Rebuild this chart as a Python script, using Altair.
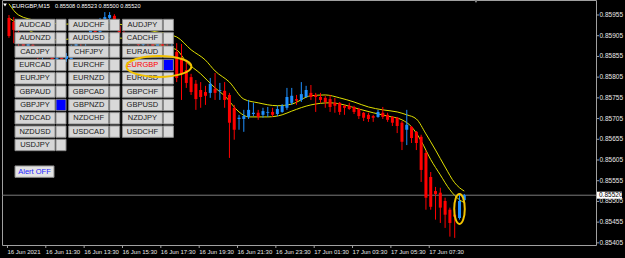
import altair as alt
import numpy as np
import pandas as pd

# ---------------- data ----------------
bar_index = list(range(96))
opens = [0.85948, 0.85938, 0.85914, 0.85890, 0.85871, 0.85883, 0.85866, 0.85854, 0.85871, 0.85858,
         0.85846, 0.85858, 0.85849, 0.85846, 0.85875, 0.85895, 0.85885, 0.85907, 0.85924, 0.85914,
         0.85938, 0.85948, 0.85953, 0.85928, 0.85914, 0.85890, 0.85904, 0.85895, 0.85883, 0.85897,
         0.85885, 0.85878, 0.85890, 0.85880, 0.85868, 0.85866, 0.85851, 0.85822, 0.85805, 0.85789,
         0.85774, 0.85769, 0.85767, 0.85777, 0.85772, 0.85772, 0.85762, 0.85731, 0.85704, 0.85704,
         0.85709, 0.85716, 0.85719, 0.85714, 0.85719, 0.85721, 0.85716, 0.85721, 0.85731, 0.85743,
         0.85752, 0.85750, 0.85757, 0.85767, 0.85762, 0.85757, 0.85755, 0.85752, 0.85743, 0.85743,
         0.85736, 0.85736, 0.85733, 0.85728, 0.85719, 0.85714, 0.85711, 0.85709, 0.85719, 0.85714,
         0.85709, 0.85707, 0.85695, 0.85678, 0.85685, 0.85673, 0.85661, 0.85622, 0.85564, 0.85530,
         0.85526, 0.85506, 0.85485, 0.85473, 0.85465, 0.85508]
highs = [0.85955, 0.85950, 0.85919, 0.85900, 0.85895, 0.85890, 0.85875, 0.85878, 0.85880, 0.85866,
         0.85866, 0.85868, 0.85863, 0.85883, 0.85902, 0.85904, 0.85914, 0.85933, 0.85931, 0.85948,
         0.85962, 0.85962, 0.85957, 0.85933, 0.85919, 0.85912, 0.85912, 0.85902, 0.85904, 0.85902,
         0.85892, 0.85897, 0.85895, 0.85887, 0.85890, 0.85887, 0.85885, 0.85842, 0.85813, 0.85798,
         0.85793, 0.85784, 0.85803, 0.85815, 0.85791, 0.85793, 0.85767, 0.85738, 0.85714, 0.85726,
         0.85750, 0.85743, 0.85726, 0.85731, 0.85733, 0.85731, 0.85736, 0.85740, 0.85779, 0.85779,
         0.85762, 0.85793, 0.85784, 0.85786, 0.85767, 0.85767, 0.85760, 0.85762, 0.85755, 0.85745,
         0.85738, 0.85743, 0.85736, 0.85731, 0.85721, 0.85719, 0.85714, 0.85726, 0.85733, 0.85719,
         0.85711, 0.85709, 0.85699, 0.85726, 0.85687, 0.85675, 0.85666, 0.85629, 0.85576, 0.85540,
         0.85538, 0.85514, 0.85490, 0.85487, 0.85521, 0.85523]
lows = [0.85900, 0.85887, 0.85880, 0.85863, 0.85866, 0.85856, 0.85846, 0.85846, 0.85851, 0.85839,
        0.85842, 0.85837, 0.85842, 0.85839, 0.85871, 0.85878, 0.85880, 0.85902, 0.85907, 0.85909,
        0.85931, 0.85938, 0.85924, 0.85904, 0.85885, 0.85883, 0.85887, 0.85875, 0.85878, 0.85878,
        0.85871, 0.85873, 0.85871, 0.85863, 0.85858, 0.85793, 0.85750, 0.85779, 0.85762, 0.85726,
        0.85731, 0.85738, 0.85755, 0.85750, 0.85750, 0.85731, 0.85610, 0.85654, 0.85678, 0.85673,
        0.85704, 0.85711, 0.85702, 0.85707, 0.85709, 0.85709, 0.85711, 0.85719, 0.85726, 0.85738,
        0.85738, 0.85745, 0.85755, 0.85750, 0.85721, 0.85743, 0.85731, 0.85721, 0.85719, 0.85714,
        0.85714, 0.85726, 0.85716, 0.85704, 0.85699, 0.85697, 0.85697, 0.85707, 0.85704, 0.85697,
        0.85687, 0.85670, 0.85629, 0.85641, 0.85646, 0.85629, 0.85552, 0.85485, 0.85485, 0.85461,
        0.85453, 0.85441, 0.85420, 0.85417, 0.85461, 0.85500]
closes = [0.85904, 0.85919, 0.85885, 0.85871, 0.85885, 0.85866, 0.85854, 0.85871, 0.85858, 0.85846,
          0.85858, 0.85849, 0.85856, 0.85875, 0.85895, 0.85885, 0.85907, 0.85924, 0.85914, 0.85938,
          0.85950, 0.85955, 0.85928, 0.85912, 0.85890, 0.85904, 0.85895, 0.85883, 0.85897, 0.85885,
          0.85878, 0.85890, 0.85880, 0.85871, 0.85878, 0.85803, 0.85813, 0.85791, 0.85769, 0.85752,
          0.85757, 0.85760, 0.85789, 0.85767, 0.85774, 0.85750, 0.85695, 0.85678, 0.85707, 0.85711,
          0.85726, 0.85719, 0.85709, 0.85723, 0.85721, 0.85714, 0.85728, 0.85736, 0.85757, 0.85760,
          0.85748, 0.85764, 0.85774, 0.85757, 0.85757, 0.85750, 0.85745, 0.85733, 0.85736, 0.85721,
          0.85731, 0.85728, 0.85721, 0.85711, 0.85707, 0.85704, 0.85707, 0.85721, 0.85709, 0.85702,
          0.85695, 0.85687, 0.85649, 0.85690, 0.85658, 0.85646, 0.85581, 0.85514, 0.85492, 0.85523,
          0.85490, 0.85473, 0.85453, 0.85468, 0.85506, 0.85520]

upper_idx = [0, 2, 6, 12, 18, 24, 30, 35, 38, 41, 43, 46, 49, 52, 56, 59, 63, 66, 69, 72, 75,
             78, 81, 83, 85, 87, 89, 91, 93, 94, 95]
upper_val = [0.85982, 0.85955, 0.85941, 0.85933, 0.85938, 0.85931, 0.85916, 0.85902, 0.85871,
             0.85846, 0.85820, 0.85793, 0.85752, 0.85743, 0.85736, 0.85740, 0.85760, 0.85762,
             0.85755, 0.85745, 0.85733, 0.85726, 0.85721, 0.85714, 0.85704, 0.85668, 0.85629,
             0.85588, 0.85550, 0.85538, 0.85530]
lower_idx = [0, 4, 10, 16, 22, 28, 34, 35, 37, 40, 43, 45, 48, 50, 54, 57, 59, 63, 67, 70, 73,
             76, 79, 82, 84, 86, 88, 90, 92, 94, 95]
lower_val = [0.85948, 0.85919, 0.85895, 0.85900, 0.85900, 0.85890, 0.85875, 0.85871, 0.85842,
             0.85813, 0.85779, 0.85760, 0.85721, 0.85709, 0.85709, 0.85714, 0.85723, 0.85738,
             0.85743, 0.85738, 0.85728, 0.85719, 0.85711, 0.85702, 0.85685, 0.85651, 0.85606,
             0.85569, 0.85533, 0.85509, 0.85502]

time_tick_bars = [0, 8, 16, 24, 32, 40, 48, 56, 64, 72, 80, 88]
time_labels = ["16 Jun 2021", "16 Jun 11:30", "16 Jun 13:30", "16 Jun 15:30", "16 Jun 17:30",
               "16 Jun 19:30", "16 Jun 21:30", "16 Jun 23:30", "17 Jun 01:30", "17 Jun 03:30",
               "17 Jun 05:30", "17 Jun 07:30"]
price_ticks = [0.85405, 0.85455, 0.85505, 0.85555, 0.85605, 0.85655, 0.85705, 0.85755,
               0.85805, 0.85855, 0.85905, 0.85955]

symbol_title = "EURGBP,M15"
pairs = ["AUDCAD", "AUDCHF", "AUDJPY", "AUDNZD", "AUDUSD", "CADCHF", "CADJPY", "CHFJPY",
         "EURAUD", "EURCAD", "EURCHF", "EURGBP", "EURJPY", "EURNZD", "EURUSD", "GBPAUD",
         "GBPCAD", "GBPCHF", "GBPJPY", "GBPNZD", "GBPUSD", "NZDCAD", "NZDCHF", "NZDJPY",
         "NZDUSD", "USDCAD", "USDCHF", "USDJPY"]
active_pairs = ["EURGBP", "GBPJPY"]
current_symbol = "EURGBP"
alert_label = "Alert OFF"
circled_bar = 94
circled_price = 0.85487

# ---------------- styles / layout ----------------
BULL = "#1e90ff"
BEAR = "#ff0000"
BAND = "#e0e000"
FRAME = "#a0a0a0"
TXT = "#e8e8e8"
MARK = "#f2c200"
FONT = "Liberation Sans"

N_COLS = 3
BTN_X0, BTN_DX, BTN_W = 13.0, 53.7, 40.0
SQ_GAP, SQ_W = 1.0, 10.0
BTN_Y0, BTN_DY, BTN_H = 19.3, 13.33, 11.4

# ---------------- tables ----------------
candles = pd.DataFrame({"i": bar_index, "open": opens, "high": highs, "low": lows, "close": closes})
candles["dir"] = np.where(candles["close"] >= candles["open"], "up", "down")
upper = pd.DataFrame({"i": upper_idx, "v": upper_val})
lower = pd.DataFrame({"i": lower_idx, "v": lower_val})
xticks = pd.DataFrame({"i": time_tick_bars, "label": time_labels})
yticks = pd.DataFrame({"p": price_ticks, "label": [f"{p:.5f}" for p in price_ticks]})

rows = []
for k, p in enumerate(pairs):
    r, c = divmod(k, N_COLS)
    x0 = BTN_X0 + c * BTN_DX
    y0 = BTN_Y0 + r * BTN_DY
    rows.append(dict(pair=p, x0=x0, x1=x0 + BTN_W, sx0=x0 + BTN_W + SQ_GAP,
                     sx1=x0 + BTN_W + SQ_GAP + SQ_W, y0=y0, y1=y0 + BTN_H,
                     xc=x0 + BTN_W / 2, yc=y0 + BTN_H / 2,
                     sqfill="#0000ff" if p in active_pairs else "#d9d9d9",
                     tcol="#ff0000" if p == current_symbol else "#1a1a1a"))
buttons = pd.DataFrame(rows)
alert_row = (len(pairs) + N_COLS - 1) // N_COLS + 1
alert = pd.DataFrame([dict(label=alert_label, x0=BTN_X0, x1=BTN_X0 + BTN_W - 1,
                           y0=BTN_Y0 + alert_row * BTN_DY, y1=BTN_Y0 + alert_row * BTN_DY + BTN_H,
                           xc=BTN_X0 + (BTN_W - 1) / 2, yc=BTN_Y0 + alert_row * BTN_DY + BTN_H / 2)])

cur_idx = pairs.index(current_symbol)
cr, cc = divmod(cur_idx, N_COLS)
ell1 = pd.DataFrame([dict(x=BTN_X0 + cc * BTN_DX + 36.5, y=BTN_Y0 + cr * BTN_DY + 7.2)])
ell2 = pd.DataFrame({"i": [circled_bar], "p": [circled_price]})
last = pd.DataFrame({"price": [closes[-1]], "label": [f"{closes[-1]:.5f}"]})
title_df = pd.DataFrame({"sym": [symbol_title],
                         "vals": [f"{opens[-1]:.5f} {highs[-1]:.5f} {lows[-1]:.5f} {closes[-1]:.5f}"]})

# ---------------- scales ----------------
x_scale = alt.Scale(domain=[-0.41, 121.44], nice=False, zero=False)
y_scale = alt.Scale(domain=[0.853998, 0.859912], nice=False, zero=False)
X = alt.X("i:Q", scale=x_scale, axis=None)
color = alt.Color("dir:N", scale=alt.Scale(domain=["up", "down"], range=[BULL, BEAR]), legend=None)

# axis layers: tick marks and labels placed through the chart's own x / y scales
x_tick_marks = alt.Chart(xticks).mark_rule(color=FRAME, strokeWidth=1, xOffset=-1.5).encode(
    x=X, y=alt.value(245), y2=alt.value(248))
x_tick_text = alt.Chart(xticks).mark_text(font=FONT, fontSize=6, color=TXT, align="left",
                                          baseline="top", dx=-1.5).encode(
    x=X, y=alt.value(248.5), text="label:N")
y_tick_marks = alt.Chart(yticks).mark_rule(color=FRAME, strokeWidth=1).encode(
    x=alt.value(594), x2=alt.value(597), y=alt.Y("p:Q", scale=y_scale, axis=None))
y_tick_text = alt.Chart(yticks).mark_text(font=FONT, fontSize=6.5, color=TXT, align="left",
                                          baseline="middle").encode(
    x=alt.value(597.5), y=alt.Y("p:Q", scale=y_scale, axis=None), text="label:N")

bid = alt.Chart(last).mark_rule(color="#7a7a7a", strokeWidth=1).encode(
    y=alt.Y("price:Q", scale=y_scale, axis=None))

up_line = alt.Chart(upper).mark_line(color=BAND, strokeWidth=1, interpolate="monotone").encode(
    x=X, y=alt.Y("v:Q", scale=y_scale, axis=None))
lo_line = alt.Chart(lower).mark_line(color=BAND, strokeWidth=1, interpolate="monotone").encode(
    x=X, y=alt.Y("v:Q", scale=y_scale, axis=None))

wicks = alt.Chart(candles).mark_rule(strokeWidth=1).encode(
    x=X, y=alt.Y("low:Q", scale=y_scale, axis=None), y2="high:Q", color=color)
bodies = alt.Chart(candles).mark_bar(size=3).encode(
    x=X, y=alt.Y("open:Q", scale=y_scale, axis=None), y2="close:Q", color=color)

btn_box = alt.Chart(buttons).mark_rect(fill="#d6d6d6", stroke="#8c8c8c", strokeWidth=1).encode(
    x=alt.X("x0:Q", scale=None), x2="x1:Q", y=alt.Y("y0:Q", scale=None), y2="y1:Q")
btn_sq = alt.Chart(buttons).mark_rect(stroke="#8c8c8c", strokeWidth=1).encode(
    x=alt.X("sx0:Q", scale=None), x2="sx1:Q", y=alt.Y("y0:Q", scale=None), y2="y1:Q",
    fill=alt.Fill("sqfill:N", scale=None))
btn_txt = alt.Chart(buttons).mark_text(font=FONT, fontSize=7.5, align="center",
                                       baseline="middle").encode(
    x=alt.X("xc:Q", scale=None), y=alt.Y("yc:Q", scale=None), text="pair:N",
    color=alt.Color("tcol:N", scale=None))
alert_box = alt.Chart(alert).mark_rect(fill="#e4e4e4", stroke="#8c8c8c", strokeWidth=1).encode(
    x=alt.X("x0:Q", scale=None), x2="x1:Q", y=alt.Y("y0:Q", scale=None), y2="y1:Q")
alert_txt = alt.Chart(alert).mark_text(font=FONT, fontSize=7.5, color="#1e1eff", align="center",
                                       baseline="middle").encode(
    x=alt.X("xc:Q", scale=None), y=alt.Y("yc:Q", scale=None), text="label:N")

ELL_WIDE = ("M -1 0 C -1 -0.178 -0.552 -0.323 0 -0.323 C 0.552 -0.323 1 -0.178 1 0 "
            "C 1 0.178 0.552 0.323 0 0.323 C -0.552 0.323 -1 0.178 -1 0 Z")
ELL_TALL = ("M 0 -1 C 0.195 -1 0.353 -0.552 0.353 0 C 0.353 0.552 0.195 1 0 1 "
            "C -0.195 1 -0.353 0.552 -0.353 0 C -0.353 -0.552 -0.195 -1 0 -1 Z")
e1 = alt.Chart(ell1).mark_point(shape=ELL_WIDE, size=4225, filled=False, color=MARK,
                                strokeWidth=2, opacity=1).encode(
    x=alt.X("x:Q", scale=None), y=alt.Y("y:Q", scale=None))
e2 = alt.Chart(ell2).mark_point(shape=ELL_TALL, size=900, filled=False, color=MARK,
                                strokeWidth=2, opacity=1).encode(
    x=X, y=alt.Y("p:Q", scale=y_scale, axis=None))

RECT = "M -1 -0.28 L 1 -0.28 L 1 0.28 L -1 0.28 Z"
price_box = alt.Chart(last).mark_point(shape=RECT, size=625, filled=True, color="#ffffff",
                                       opacity=1, strokeWidth=0).encode(
    x=alt.value(607.5), y=alt.Y("price:Q", scale=y_scale, axis=None))
price_txt = alt.Chart(last).mark_text(font=FONT, fontSize=6.5, color="#000000", align="left",
                                      baseline="middle").encode(
    x=alt.value(597), y=alt.Y("price:Q", scale=y_scale, axis=None), text="label:N")

tri = alt.Chart(title_df).mark_point(shape="triangle-down", size=14, filled=True, color="#ffffff",
                                     opacity=1).encode(x=alt.value(3), y=alt.value(5))
shift_tri = alt.Chart(title_df).mark_point(shape="triangle-down", size=14, filled=True,
                                           color="#8a8a8a", opacity=1).encode(
    x=alt.value(474), y=alt.value(1.5))
t_sym = alt.Chart(title_df).mark_text(font=FONT, fontSize=6, color="#ffffff", align="left",
                                      baseline="middle").encode(
    x=alt.value(10), y=alt.value(5.5), text="sym:N")
t_vals = alt.Chart(title_df).mark_text(font=FONT, fontSize=5.6, color="#ffffff", align="left",
                                       baseline="middle").encode(
    x=alt.value(53), y=alt.value(5.5), text="vals:N")

chart = alt.layer(
    x_tick_marks, x_tick_text, y_tick_marks, y_tick_text,
    bid, up_line, lo_line, wicks, bodies,
    btn_box, btn_sq, btn_txt, alert_box, alert_txt,
    e1, e2, price_box, price_txt, tri, shift_tri, t_sym, t_vals
).properties(
    width=594, height=245,
    autosize=alt.AutoSizeParams(type="none"),
    padding={"left": 2, "top": 0, "right": 29, "bottom": 13},
    background="#000000",
).configure_view(fill="#000000", stroke=FRAME, strokeWidth=1)

chart.save("out.html", embed_options={"renderer": "svg", "actions": False})
